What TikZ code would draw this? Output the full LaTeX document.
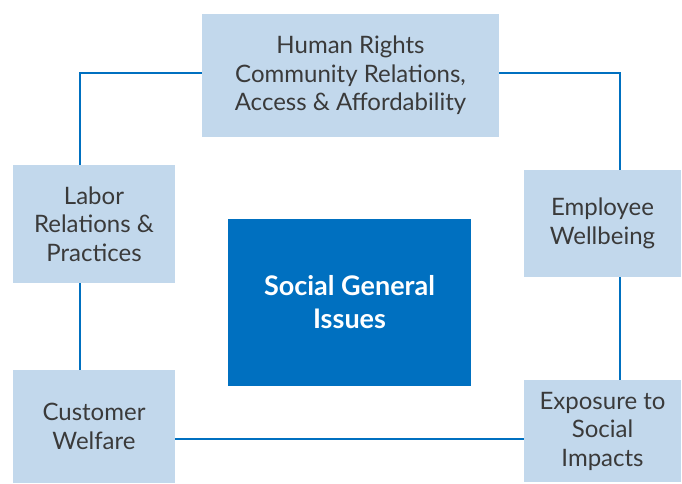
\documentclass[tikz,border=0pt]{standalone}
\usepackage{fontspec}
\setmainfont{Lato}
\begin{document}
\definecolor{boxfill}{HTML}{C2D8EC}
\definecolor{hubfill}{HTML}{0070C0}
\definecolor{linkblue}{HTML}{0070C0}
\definecolor{textgray}{HTML}{3A3A3A}
\begin{tikzpicture}[x=1pt,y=-1pt,
  topic/.style={fill=boxfill,draw=none,inner sep=0pt,text=textgray,align=center,
    font=\fontsize{24}{28.5}\selectfont},
  hub/.style={fill=hubfill,draw=none,inner sep=0pt,text=white,align=center,
    font=\fontsize{27}{33}\selectfont\bfseries},
  link/.style={draw=linkblue,line width=2.2pt}]
\useasboundingbox (0,0) rectangle (682,483);
% topic boxes, placed by their centres
\node[topic,minimum width=297pt,minimum height=123pt] (rights) at (350.5,75.5)
  {Human Rights\\Community Relations,\\Access \& Affordability};
\node[topic,minimum width=162pt,minimum height=118pt] (labor) at (94,224)
  {Labor\\Relations \&\\Practices};
\node[topic,minimum width=162pt,minimum height=113pt] (customer) at (94,426.5)
  {Customer\\Welfare};
\node[topic,minimum width=157pt,minimum height=107pt] (employee) at (602.5,223.5)
  {Employee\\Wellbeing};
\node[topic,minimum width=157pt,minimum height=102pt] (exposure) at (602.5,431)
  {Exposure to\\Social\\Impacts};
% central topic
\node[hub,minimum width=243pt,minimum height=167pt] (hub) at (349.5,302.5)
  {Social General\\Issues};
% connectors around the ring
\coordinate (tl) at (80,73);
\coordinate (tr) at (620,73);
\draw[link] (rights.west |- tl) -- (tl) -- (tl |- labor.north);
\draw[link] (rights.east |- tr) -- (tr) -- (tr |- employee.north);
\draw[link] (tl |- labor.south) -- (tl |- customer.north);
\draw[link] (tr |- employee.south) -- (tr |- exposure.north);
\coordinate (bl) at (0,439);
\draw[link] (customer.east |- bl) -- (exposure.west |- bl);
\end{tikzpicture}
\end{document}
